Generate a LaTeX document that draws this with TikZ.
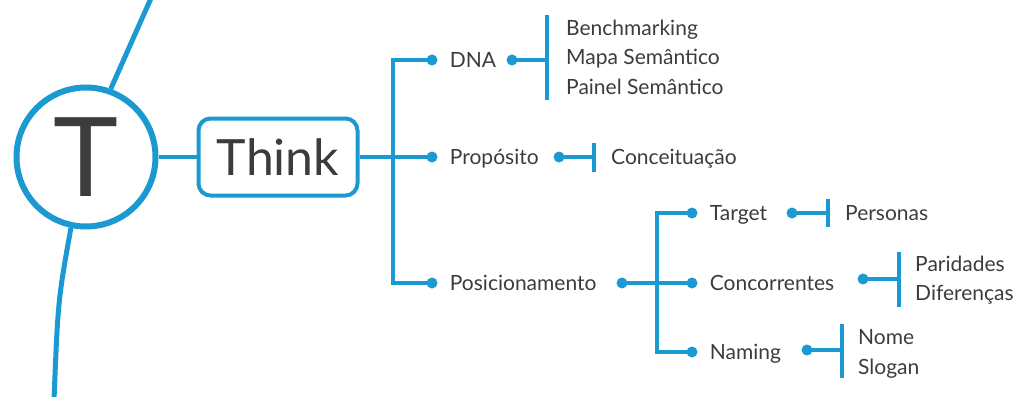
\documentclass[tikz,border=0pt]{standalone}
\usepackage{fontspec}
\setmainfont{Lato}
\usetikzlibrary{positioning}
\definecolor{mapblue}{HTML}{1B9AD2}
\definecolor{mapgray}{HTML}{3C3C3E}
\tikzset{%
  branch/.style={draw=mapblue, line width=3.5pt},
  dot/.style={circle, fill=mapblue, inner sep=0pt, minimum size=11pt},
  bar/.style={rectangle, fill=mapblue, inner sep=0pt, minimum width=3.5pt},
  item/.style={
    text=mapgray,
    anchor=west,
    inner sep=0pt,
    text height=15pt,
    text depth=0pt,
    font=\fontsize{21}{21}\selectfont
  },
  hub/.style={
    circle,
    draw=mapblue,
    fill=white,
    line width=6pt,
    minimum size=139pt,
    inner sep=0pt,
    text=mapgray,
    text height=79pt,
    text depth=0pt,
    font=\fontsize{110}{110}\selectfont
  },
  topic/.style={
    rectangle,
    rounded corners=12pt,
    draw=mapblue,
    line width=4pt,
    minimum width=159pt,
    minimum height=77pt,
    text=mapgray,
    text height=36pt,
    text depth=0pt,
    font=\fontsize{50}{50}\selectfont
  },
}

\begin{document}
\begin{tikzpicture}[x=1pt, y=-1pt]
\useasboundingbox (0,0) rectangle (1022,396);
% hub and the big arc behind it
\coordinate (arctop) at (152,-4);
\coordinate (arcbot) at (54,400);
\node[hub] (letter) at (86,157) {T};
\draw[branch, line width=5pt] (letter.70) .. controls (128,50) .. (arctop);
\draw[branch, line width=5pt] (letter.258) .. controls (58,300) .. (arcbot);
\node[topic] (think) at (278,157) {Think};
\draw[branch] (letter.east) -- (think.west);

% first level
\node[dot] (dnadot) at (432,60) {};
\node[dot] (propdot) at (432,157) {};
\node[dot] (posdot) at (432,283) {};
\coordinate (trunktop) at (393,60);
\coordinate (trunkbot) at (393,283);
\draw[branch] (think.east) -- (propdot.center);
\draw[branch] (dnadot.center) -- (trunktop) -- (trunkbot) -- (posdot.center);
\node[item, right=12pt of dnadot] (dna) {DNA};
\node[item, right=12pt of propdot] (prop) {Propósito};
\node[item, right=12pt of posdot] (pos) {Posicionamento};

% DNA
\node[dot] (dnadot2) at (512,60) {};
\node[bar, minimum height=85pt] (dnabar) at (547,57.5) {};
\draw[branch] (dnadot2.center) -- (dnadot2 -| dnabar);
\foreach \t [count=\i] in {Benchmarking, Mapa Semântico, Painel Semântico}
    \node[item] (dnaleaf\i) at (566,28+29.5*\i-29.5) {\t};

% Propósito
\node[dot] (propdot2) at (559,157) {};
\node[bar, minimum height=29pt] (propbar) at (594,157) {};
\draw[branch] (propdot2.center) -- (propdot2 -| propbar);
\node[item] (concept) at (611,157) {Conceituação};

% Posicionamento
\node[dot] (posdot2) at (622,283) {};
\node[dot] (targetdot) at (692,213) {};
\node[dot] (concdot) at (692,283) {};
\node[dot] (namingdot) at (692,352) {};
\coordinate (forktop) at (657,213);
\coordinate (forkbot) at (657,352);
\draw[branch] (posdot2.center) -- (concdot.center);
\draw[branch] (targetdot.center) -- (forktop) -- (forkbot) -- (namingdot.center);
\node[item, right=12pt of targetdot] (target) {Target};
\node[item, right=12pt of concdot] (conc) {Concorrentes};
\node[item, right=12pt of namingdot] (naming) {Naming};

% Target
\node[dot] (targetdot2) at (792,213) {};
\node[bar, minimum height=28pt] (targetbar) at (828,213) {};
\draw[branch] (targetdot2.center) -- (targetdot2 -| targetbar);
\node[item] (personas) at (845,213) {Personas};

% Concorrentes
\node[dot] (concdot2) at (863,279) {};
\node[bar, minimum height=55pt] (concbar) at (899,279) {};
\draw[branch] (concdot2.center) -- (concdot2 -| concbar);
\node[item] (paridades) at (915,264) {Paridades};
\node[item] (diferencas) at (915,293) {Diferenças};

% Naming
\node[dot] (namingdot2) at (807,350) {};
\node[bar, minimum height=54pt] (namingbar) at (842,351) {};
\draw[branch] (namingdot2.center) -- (namingdot2 -| namingbar);
\node[item] (nome) at (858,337) {Nome};
\node[item] (slogan) at (858,367) {Slogan};
\end{tikzpicture}
\end{document}
